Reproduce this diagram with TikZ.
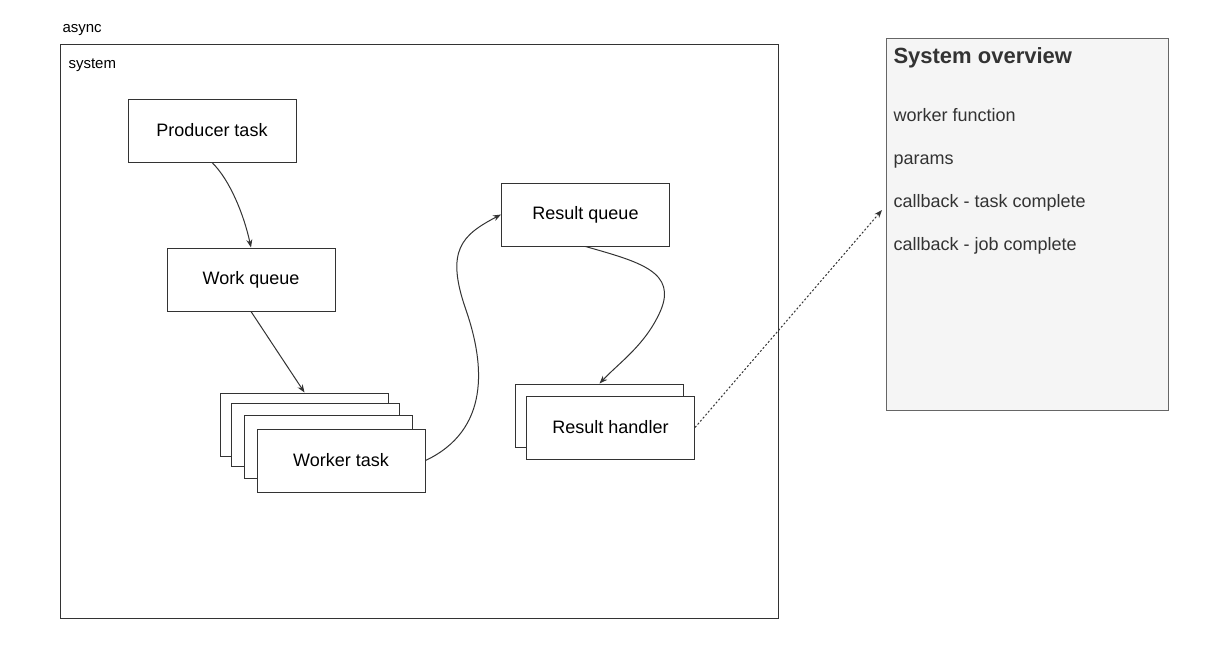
\documentclass[tikz,border=0pt]{standalone}
\usepackage{fontspec}
\setmainfont{Liberation Sans}
\usepackage{tikz}
\usetikzlibrary{positioning,arrows.meta}
\definecolor{panelgray}{HTML}{F5F5F5}
\definecolor{panelline}{HTML}{666666}
\definecolor{textgray}{HTML}{333333}

\tikzset{
	box/.style = {draw=black!80, fill=white, line width=0.75pt, inner sep=0pt,
		minimum width=126pt, minimum height=47.25pt, font=\fontsize{13.5}{16}\selectfont},
	listitem/.style = {anchor=west, inner sep=0pt, text height=9.7pt, text depth=0pt,
		text=textgray, font=\fontsize{13.5}{16}\selectfont},
	tag/.style = {anchor=west, inner sep=0pt, text height=8.1pt, text depth=0pt,
		font=\fontsize{11.25}{13}\selectfont},
}

\begin{document}
\begin{tikzpicture}[x=0.75pt, y=-0.75pt, >={Stealth[length=6pt,width=4.5pt]}, line width=0.75pt]
		\useasboundingbox (0,0) rectangle (1230,647);
		% outer frame
		\node[tag] (asynclbl) at (62,27) {async};
		\draw[black!80] (60,44) rectangle (778,618);
		\node[tag] (systemlbl) at (68,63) {system};

		\node[box] (producer) at (212,130.5) {Producer task};
		\node[box] (workq) at (251,279.5) {Work queue};

		% worker stack
		\node[box] (wt1) at (304.5,424.5) {};
		\node[box] (wt2) at (315,435) {};
		\node[box] (wt3) at (328.5,447) {};
		\node[box] (worker) at (341,460.5) {Worker task};

		\node[box] (resq) at (585.5,214.5) {Result queue};

		% handler stack
		\node[box] (rh1) at (599.5,415.5) {};
		\node[box] (handler) at (610.5,427.5) {Result handler};

		% side panel
		\draw[panelline, fill=panelgray] (886,38) rectangle (1168,410);
		\coordinate (panelin) at (882,210);
		\node[listitem, text height=11.9pt, font=\fontsize{16.5}{20}\selectfont\bfseries] (title) at (893,56) {System overview};
		\node[listitem] (item1) at (893,115) {worker function};
		\node[listitem] (item2) at (893,158) {params};
		\node[listitem] (item3) at (893,201) {callback - task complete};
		\node[listitem] (item4) at (893,244) {callback - job complete};

		\draw[->, black!80] (producer.south) .. controls (230,180) and (244,215) .. (workq.north);
		\draw[->, black!80] (workq.south) -- (wt1.north);
		\draw[->, black!80] (worker.east) .. controls (490,430) and (485,365) .. (466,310) .. controls (445,250) and (462,235) .. (resq.west);
		\draw[->, black!80] (resq.south) .. controls (640,262) and (678,272) .. (660,312) .. controls (645,345) and (620,362) .. (rh1.north);
		\draw[->, black!80, dash pattern=on 1.5pt off 1.5pt] (handler.east) -- (panelin);
	\end{tikzpicture}
\end{document}
